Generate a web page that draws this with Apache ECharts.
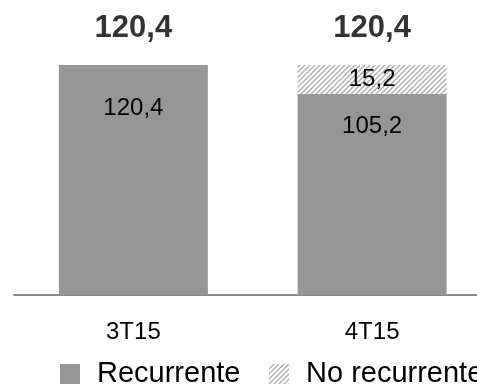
<!DOCTYPE html>
<html>
<head>
<meta charset="utf-8">
<script src="https://cdn.jsdelivr.net/npm/echarts@6/dist/echarts.min.js"></script>
<style>
  html, body { margin: 0; padding: 0; background: #fff; }
  #chart { width: 477px; height: 384px; }
</style>
</head>
<body>
<div id="chart"></div>
<script>
// Quarterly figures: recurring and non-recurring parts
const categories = ['3T15', '4T15'];
const recurrente = [120.4, 105.2];
const noRecurrente = [0, 15.2];
const seriesNames = ['Recurrente', 'No recurrente'];

const totals = categories.map((c, i) => +(recurrente[i] + noRecurrente[i]).toFixed(1));
const fmt = v => v.toFixed(1).replace('.', ',');
const FONT = '"Liberation Sans", Arial, sans-serif';

// Diagonal hatch tile for the non-recurring segment
function hatchTile() {
  const s = 5;
  const c = document.createElement('canvas');
  c.width = s; c.height = s;
  const g = c.getContext('2d');
  g.fillStyle = '#ffffff';
  g.fillRect(0, 0, s, s);
  g.strokeStyle = '#ababab';
  g.lineWidth = 1.3;
  g.beginPath();
  g.moveTo(-1, s + 1); g.lineTo(s + 1, -1);
  g.moveTo(-1, 1); g.lineTo(1, -1);
  g.moveTo(s - 1, s + 1); g.lineTo(s + 1, s - 1);
  g.stroke();
  return c;
}

const chart = echarts.init(document.getElementById('chart'), null, { renderer: 'canvas' });

// inner label distances from the bar top, one per bar
const innerDist = [31, 20];

// one legend box per series so the long second entry runs off the edge instead of wrapping
const legendBase = {
  orient: 'horizontal',
  top: 354.5,
  itemWidth: 20,
  itemHeight: 20,
  textStyle: {
    fontSize: 29, color: '#000', fontFamily: FONT, lineHeight: 29,
    padding: [0, 0, 0, 12]
  }
};

chart.setOption({
  animation: false,
  textStyle: { fontFamily: FONT },
  grid: {
    left: 14, right: -14.5, top: 8.5, bottom: 89,
    containLabel: false,
    outerBoundsMode: 'none'
  },
  legend: [
    Object.assign({}, legendBase, { left: 55, data: [{ name: seriesNames[0], icon: 'rect' }] }),
    Object.assign({}, legendBase, { left: 264, data: [{ name: seriesNames[1], icon: 'rect' }] })
  ],
  xAxis: {
    type: 'category',
    data: categories,
    axisLine: { lineStyle: { color: '#898989', width: 2 } },
    axisTick: { show: false },
    axisLabel: { fontSize: 24, color: '#000', margin: 25, lineHeight: 24, fontFamily: FONT }
  },
  yAxis: {
    type: 'value',
    min: 0,
    max: 150,
    show: false,
    splitLine: { show: false }
  },
  series: [
    {
      name: seriesNames[0],
      type: 'bar',
      stack: 'total',
      barWidth: 149,
      itemStyle: { color: '#969696' },
      data: recurrente.map((v, i) => ({
        value: v,
        label: {
          show: true,
          position: 'insideTop',
          distance: innerDist[i],
          formatter: p => fmt(p.value),
          fontSize: 24,
          lineHeight: 24,
          color: '#000',
          fontFamily: FONT
        }
      }))
    },
    {
      name: seriesNames[1],
      type: 'bar',
      stack: 'total',
      barWidth: 149,
      itemStyle: { color: { image: hatchTile(), repeat: 'repeat' } },
      label: {
        show: true,
        position: 'inside',
        formatter: p => (p.value > 0 ? fmt(p.value) : ''),
        fontSize: 24,
        lineHeight: 24,
        color: '#000',
        fontFamily: FONT
      },
      data: noRecurrente
    },
    {
      name: 'Total',
      type: 'scatter',
      symbolSize: 0,
      silent: true,
      label: {
        show: true,
        position: 'top',
        distance: 21,
        formatter: p => fmt(p.value),
        fontSize: 31,
        lineHeight: 31,
        fontWeight: 'bold',
        color: '#000',
        fontFamily: FONT
      },
      data: totals
    }
  ]
});
</script>
</body>
</html>
